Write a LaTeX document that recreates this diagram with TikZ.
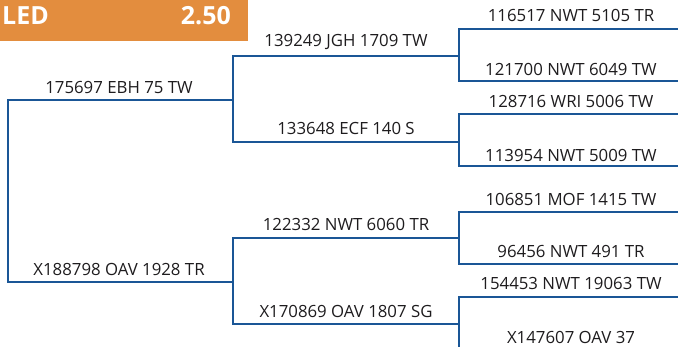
\documentclass[tikz,border=0pt]{standalone}
\usepackage{fontspec}
\setmainfont{Open Sans}
\definecolor{bracket}{RGB}{26,86,150}
\definecolor{hdr}{RGB}{227,141,62}
\definecolor{txt}{RGB}{30,28,30}
\begin{document}
\begin{tikzpicture}[x=1pt,y=-1pt,
  lbl/.style={anchor=base,inner sep=0pt,font=\fontsize{16.8}{18}\selectfont,text=txt},
  hd/.style={anchor=base west,inner sep=0pt,font=\fontsize{25}{28}\selectfont\bfseries,text=white},
  br/.style={draw=bracket,line width=2.4pt}]
\useasboundingbox (0,0) rectangle (678,347);
% header
\node[fill=hdr,minimum width=248pt,minimum height=40.5pt,inner sep=0pt,anchor=north west] (header) at (0,0) {};
\node[hd] (led) at (2,25) {LED};
\node[hd,anchor=base east] (odds) at (231,25) {2.50};
% junction coordinates
\coordinate (r1) at (8,100);
\coordinate (r2) at (8,282);
\coordinate (a1) at (233,56);
\coordinate (a2) at (233,142);
\coordinate (a0) at (233,100);
\coordinate (b1) at (233,238);
\coordinate (b2) at (233,324);
\coordinate (b0) at (233,282);
\coordinate (c10) at (459,56);
\coordinate (c11) at (459,29);
\coordinate (c12) at (459,81);
\coordinate (c20) at (459,142);
\coordinate (c21) at (459,114);
\coordinate (c22) at (459,166);
\coordinate (c30) at (459,238);
\coordinate (c31) at (459,212);
\coordinate (c32) at (459,264);
\coordinate (c40) at (459,324);
\coordinate (c41) at (459,297);
\coordinate (c42) at (459,351);
\coordinate (e11) at (679,29);
\coordinate (e12) at (679,81);
\coordinate (e21) at (679,114);
\coordinate (e22) at (679,166);
\coordinate (e31) at (679,212);
\coordinate (e32) at (679,264);
\coordinate (e41) at (679,297);
\coordinate (e42) at (679,351);
% brackets
\draw[br] (a0) -- (r1) -- (r2) -- (b0);
\draw[br] (c10) -- (a1) -- (a2) -- (c20);
\draw[br] (c30) -- (b1) -- (b2) -- (c40);
\draw[br] (e11) -- (c11) -- (c12) -- (e12);
\draw[br] (e21) -- (c21) -- (c22) -- (e22);
\draw[br] (e31) -- (c31) -- (c32) -- (e32);
\draw[br] (e41) -- (c41) -- (c42) -- (e42);
% labels
\node[lbl] (n1) at (119,94) {175697 EBH 75 TW};
\node[lbl] (n2) at (119,276) {X188798 OAV 1928 TR};
\node[lbl] (n3) at (346,47) {139249 JGH 1709 TW};
\node[lbl] (n4) at (346,135) {133648 ECF 140 S};
\node[lbl] (n5) at (346,231) {122332 NWT 6060 TR};
\node[lbl] (n6) at (346,318) {X170869 OAV 1807 SG};
\node[lbl] (m1) at (571,22) {116517 NWT 5105 TR};
\node[lbl] (m2) at (571,76) {121700 NWT 6049 TW};
\node[lbl] (m3) at (571,108) {128716 WRI 5006 TW};
\node[lbl] (m4) at (571,162) {113954 NWT 5009 TW};
\node[lbl] (m5) at (571,206) {106851 MOF 1415 TW};
\node[lbl] (m6) at (571,258) {96456 NWT 491 TR};
\node[lbl] (m7) at (571,290) {154453 NWT 19063 TW};
\node[lbl] (m8) at (571,344) {X147607 OAV 37};
\end{tikzpicture}
\end{document}
